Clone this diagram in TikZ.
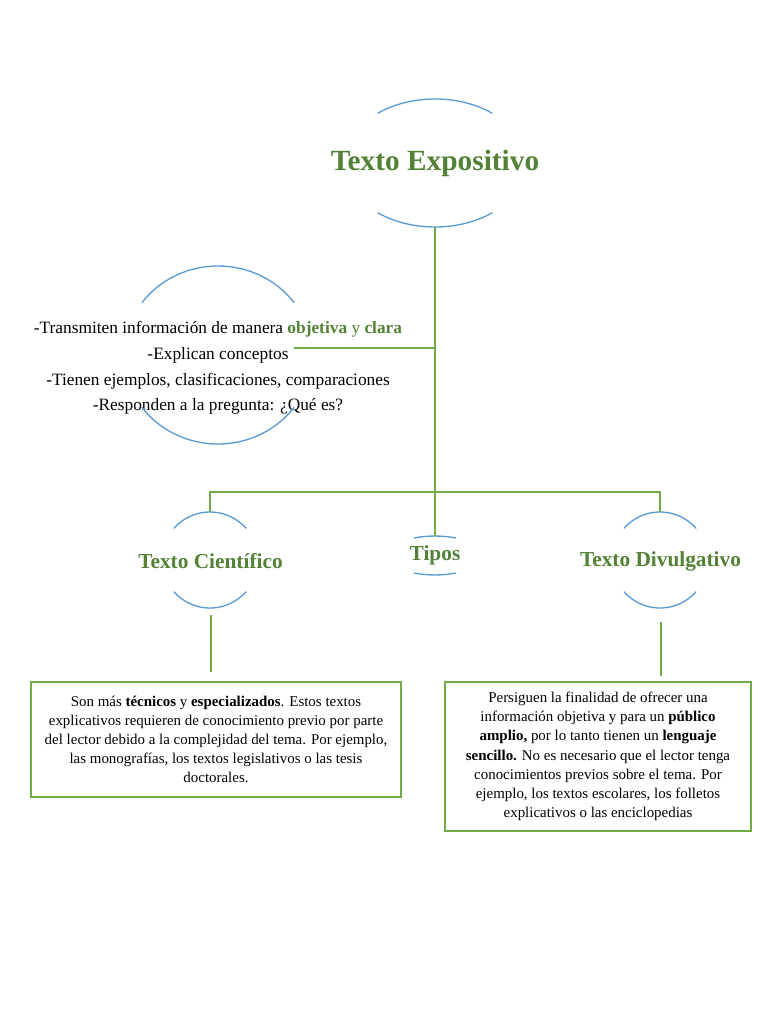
\documentclass[tikz,border=0pt]{standalone}
\usepackage{fontspec}
\setmainfont{Liberation Serif}
\usepackage{xcolor}
\usepackage{tikz}
\usetikzlibrary{positioning, calc}
\definecolor{headgreen}{HTML}{538135}
\definecolor{linegreen}{HTML}{70AD47}
\definecolor{arcblue}{HTML}{5B9BD5}
\tikzset{
	heading/.style={font=\fontsize{22}{26}\selectfont\bfseries, text=headgreen, inner sep=0pt},
	kind/.style={font=\fontsize{16}{19}\selectfont\bfseries, text=headgreen, inner sep=0pt},
	points/.style={align=center, font=\fontsize{13}{19.3}\selectfont, inner sep=0pt},
	descbox/.style={rectangle, draw=linegreen, line width=1.2pt, align=center, font=\fontsize{11.2}{14.4}\selectfont, inner sep=0pt},
	conn/.style={draw=linegreen, line width=0.9pt},
	arcline/.style={draw=arcblue, line width=1pt}
}
% two arcs round a centre: name, centre, x radius, y radius, half gap angle
\newcommand{\arcframe}[5]{%
	\coordinate (#1) at #2;
	\draw[arcline] ([shift={(#5:#3 and #4)}]#1) arc[start angle=#5, end angle={180-#5}, x radius=#3, y radius=#4];
	\draw[arcline] ([shift={({180+#5}:#3 and #4)}]#1) arc[start angle={180+#5}, end angle={360-#5}, x radius=#3, y radius=#4];
	\coordinate (#1-top) at ([yshift=#4]#1);
	\coordinate (#1-bot) at ([yshift=-#4]#1);
	\coordinate (#1-end) at ([shift={(#5:#3 and #4)}]#1);
}

\begin{document}
\begin{tikzpicture}[x=0.75pt, y=-0.75pt]
	\useasboundingbox (0,0) rectangle (768,1024);
	\node[heading] (expo) at (435,163) {Texto Expositivo};
	\arcframe{expo-r}{(expo.center)}{68.25pt}{48pt}{51}
	\node[points] (rasgos) at (218,368) {-Transmiten información de manera \textcolor{headgreen}{\textbf{objetiva} y \textbf{clara}}\\
		-Explican conceptos\\
		-Tienen ejemplos, clasificaciones, comparaciones\\
		-Responden a la pregunta: ¿Qué es?};
	\arcframe{rasgos-r}{(218,355)}{70.5pt}{66.75pt}{36}
	\node[kind] (tipos) at (435,555.5) {Tipos};
	\arcframe{tipos-r}{(tipos.center)}{36pt}{14.6pt}{64}
	\node[kind] (cient) at (210.5,561) {Texto Científico};
	\arcframe{cient-r}{(210,560)}{36pt}{36pt}{41}
	\node[kind] (divul) at (660.5,561) {Texto Divulgativo};
	\arcframe{divul-r}{(660,560)}{36pt}{36pt}{41}
	\node[descbox, minimum width=277.5pt, minimum height=86.25pt] (cbox) at (216,739.5) {Son más \textbf{técnicos} y \textbf{especializados}. Estos textos\\
		explicativos requieren de conocimiento previo por parte\\
		del lector debido a la complejidad del tema. Por ejemplo,\\
		las monografías, los textos legislativos o las tesis\\
		doctorales.};
	\node[descbox, minimum width=229.5pt, minimum height=111.75pt] (dbox) at (598,756.5) {Persiguen la finalidad de ofrecer una\\
		información objetiva y para un \textbf{público}\\
		\textbf{amplio,} por lo tanto tienen un \textbf{lenguaje}\\
		\textbf{sencillo.} No es necesario que el lector tenga\\
		conocimientos previos sobre el tema. Por\\
		ejemplo, los textos escolares, los folletos\\
		explicativos o las enciclopedias};
	\coordinate (jl) at (435,348);
	\coordinate (jt) at (435,492);
	\draw[conn] (expo-r-bot) -- (tipos-r-top);
	\draw[conn] (jl -| rasgos-r-end) -- (jl);
	\draw[conn] (cient-r-top) |- (jt) -| (divul-r-top);
	\draw[conn, shorten <=5.25pt, shorten >=6.75pt] ([xshift=0.75pt]cient-r-bot) -- ([xshift=0.75pt]cient-r-bot |- cbox.north);
	\draw[conn, shorten <=10.5pt, shorten >=3.75pt] ([xshift=0.75pt]divul-r-bot) -- ([xshift=0.75pt]divul-r-bot |- dbox.north);
\end{tikzpicture}
\end{document}
